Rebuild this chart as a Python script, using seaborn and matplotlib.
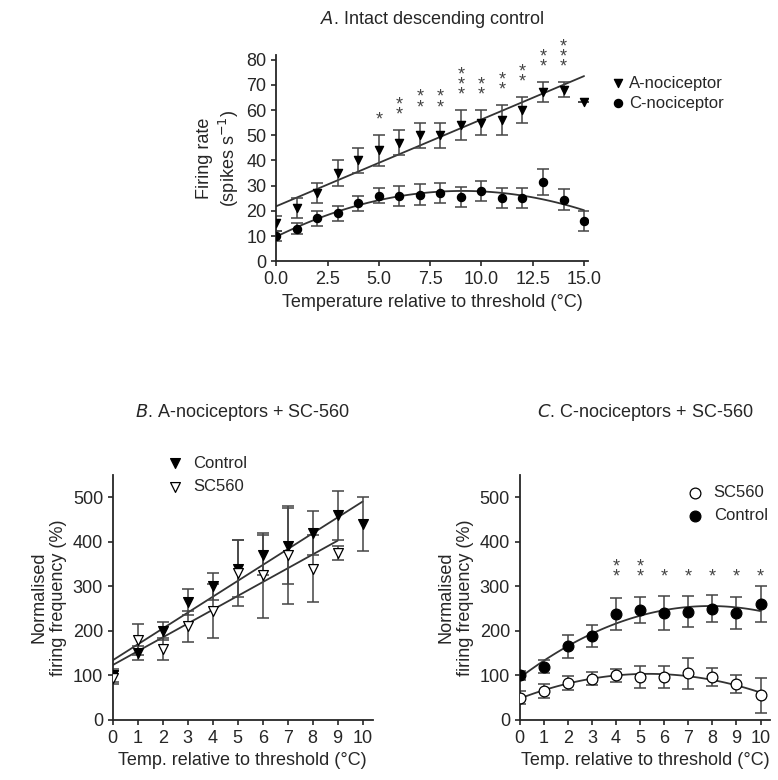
import matplotlib
matplotlib.use("Agg")
import matplotlib.pyplot as plt
import seaborn as sns
import numpy as np

sns.set_style("ticks")
plt.rcParams['font.family'] = ['Liberation Sans', 'DejaVu Sans']

# Panel A data
temp_a = np.arange(0, 16)
a_noci = [15, 21, 27, 35, 40, 44, 47, 50, 50, 54, 55, 56, 60, 67, 68, 63]
a_noci_err = [3, 4, 4, 5, 5, 6, 5, 5, 5, 6, 5, 6, 5, 4, 3, 0]
c_noci = [10, 13, 17, 19, 23, 26, 26, 26.5, 27, 25.5, 28, 25, 25, 31.5, 24.5, 16]
c_noci_err = [2, 2, 3, 3, 3, 3, 4, 4, 4, 4, 4, 4, 4, 5, 4, 4]
a_stars = {5: 1, 6: 2, 7: 2, 8: 2, 9: 3, 10: 2, 11: 2, 12: 2, 13: 2, 14: 3}

# Panel B data
temp_b = np.arange(0, 11)
b_ctrl = [100, 150, 200, 265, 300, 340, 370, 390, 420, 460, 440]
b_ctrl_err = [15, 15, 20, 30, 30, 65, 45, 85, 50, 55, 60]
temp_b_sc = np.arange(0, 10)
b_sc = [95, 180, 160, 210, 245, 330, 325, 370, 340, 375]
b_sc_err = [15, 35, 25, 35, 60, 75, 95, 110, 75, 15]

# Panel C data
temp_c = np.arange(0, 11)
c_ctrl = [100, 120, 165, 188, 238, 247, 240, 243, 250, 240, 260]
c_ctrl_err = [10, 15, 25, 25, 35, 30, 38, 35, 30, 35, 40]
c_sc = [50, 65, 83, 93, 100, 97, 97, 105, 97, 80, 55]
c_sc_err = [15, 15, 15, 15, 15, 25, 25, 35, 20, 20, 40]
c_stars = {4: 2, 5: 2, 6: 1, 7: 1, 8: 1, 9: 1, 10: 1}

fig = plt.figure(figsize=(7.78, 7.8), dpi=100)
axA = fig.add_axes([0.355, 0.665, 0.401, 0.265])
axB = fig.add_axes([0.145, 0.077, 0.334, 0.314])
axC = fig.add_axes([0.668, 0.077, 0.322, 0.314])


def series(ax, x, y, err, marker, filled, label, deg, size=40, nfit=None):
    fc = 'black' if filled else 'white'
    ax.errorbar(x, y, yerr=err, fmt='none', ecolor='#444444', elinewidth=1.1,
                capsize=4, capthick=1.1, zorder=2)
    sns.scatterplot(x=x, y=y, marker=marker, s=size, color=fc, edgecolor='black',
                    linewidth=0.9, label=label, ax=ax, zorder=3)
    n = nfit or len(x)
    coef = np.polyfit(x[:n], y[:n], deg)
    xs = np.linspace(x[0], x[-1], 100)
    sns.lineplot(x=xs, y=np.polyval(coef, xs), color='#333333', lw=1.3, ax=ax, zorder=1)


def stars(ax, d, y, yerr, step, first):
    for k, n in d.items():
        base = y[k] + yerr[k] + first
        for i in range(n):
            ax.text(k, base + i * step, '*', ha='center', va='center', fontsize=13,
                    color='#444444', clip_on=False)


# Panel A
series(axA, temp_a, np.array(a_noci), a_noci_err, 'v', True, 'A-nociceptor', 1, 35, nfit=15)
series(axA, temp_a, np.array(c_noci), c_noci_err, 'o', True, 'C-nociceptor', 2, 35)
stars(axA, a_stars, a_noci, a_noci_err, 4, 6)
axA.set_xlim(0, 15.2)
axA.set_ylim(0, 82)
axA.set_xticks(np.arange(0, 15.1, 2.5))
axA.set_xticklabels(['0.0', '2.5', '5.0', '7.5', '10.0', '12.5', '15.0'])
axA.set_yticks(range(0, 81, 10))
axA.set_xlabel('Temperature relative to threshold (°C)', fontsize=13)
axA.set_ylabel('Firing rate\n(spikes s$^{-1}$)', fontsize=13)
axA.set_title(r'$\it{A}$. Intact descending control', fontsize=13, pad=22)
axA.legend(loc='upper left', bbox_to_anchor=(1.02, 0.97), frameon=False, fontsize=12,
           handletextpad=0.2, handlelength=1.0, labelspacing=0.3)

# Panel B
series(axB, temp_b, np.array(b_ctrl), b_ctrl_err, 'v', True, 'Control', 1, 50)
series(axB, temp_b_sc, np.array(b_sc), b_sc_err, 'v', False, 'SC560', 1, 50)
axB.set_title(r'$\it{B}$. A-nociceptors + SC-560', fontsize=13, pad=42)
axB.legend(loc='upper left', bbox_to_anchor=(0.15, 1.14), frameon=False, fontsize=12,
           handletextpad=0.6, handlelength=1.0)

# Panel C
series(axC, temp_c, np.array(c_sc), c_sc_err, 'o', False, 'SC560', 2, 60)
series(axC, temp_c, np.array(c_ctrl), c_ctrl_err, 'o', True, 'Control', 2, 60)
stars(axC, c_stars, [300] * 11, [0] * 11, 22, 22)
axC.set_title(r'$\it{C}$. C-nociceptors + SC-560', fontsize=13, pad=42)
axC.legend(loc='upper right', bbox_to_anchor=(1.05, 1.02), frameon=False, fontsize=12,
           handletextpad=0.6, handlelength=1.0)

for ax in (axB, axC):
    ax.set_xlim(0, 10.4)
    ax.set_ylim(0, 550)
    ax.set_xticks(range(0, 11))
    ax.set_yticks(range(0, 501, 100))
    ax.set_xlabel('Temp. relative to threshold (°C)', fontsize=13)
    ax.set_ylabel('Normalised\nfiring frequency (%)', fontsize=13)

for ax in (axA, axB, axC):
    sns.despine(ax=ax)
    ax.tick_params(labelsize=13, width=1.2)
    ax.spines['left'].set_linewidth(1.3)
    ax.spines['bottom'].set_linewidth(1.3)

fig.savefig('out.png', dpi=100)
